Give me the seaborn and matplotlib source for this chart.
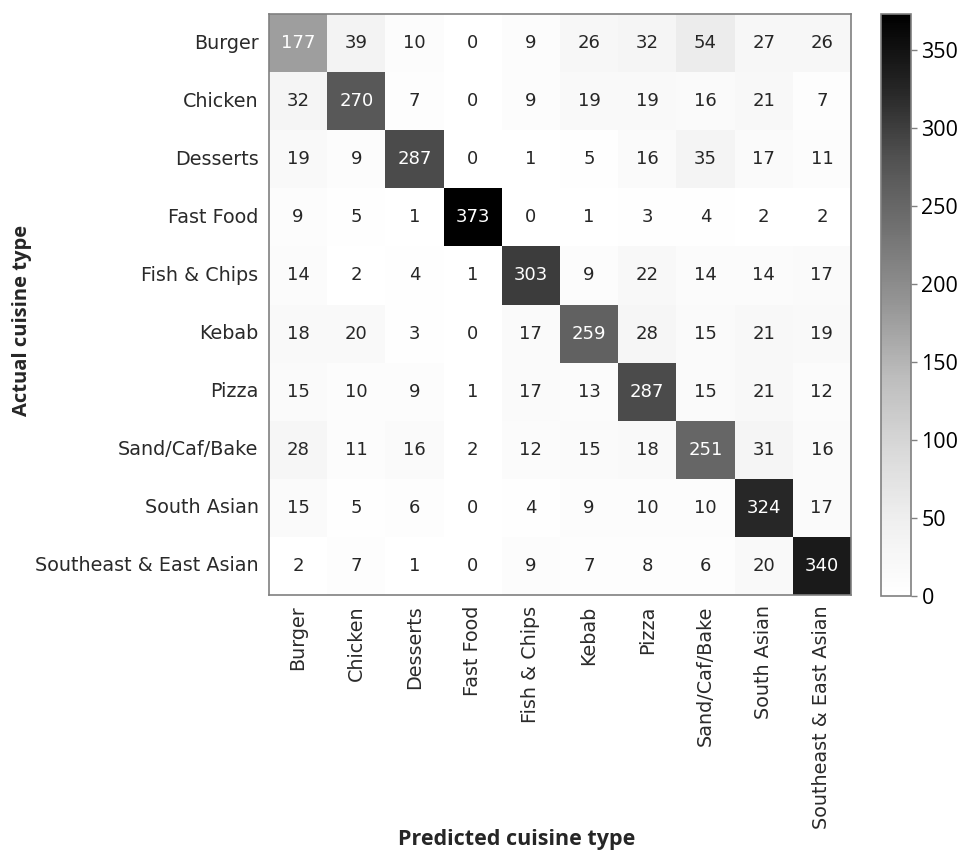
"""
Confusion matrix of predicted vs actual cuisine type.
"""

import numpy as np
import pandas as pd
import matplotlib
matplotlib.use("Agg")
import matplotlib.pyplot as plt
import seaborn as sns

# Class labels (same order on both axes)
cuisines = ["Burger", "Chicken", "Desserts", "Fast Food", "Fish & Chips",
            "Kebab", "Pizza", "Sand/Caf/Bake", "South Asian",
            "Southeast & East Asian"]

# Rows: actual, columns: predicted
counts = [
    [177, 39, 10, 0, 9, 26, 32, 54, 27, 26],
    [32, 270, 7, 0, 9, 19, 19, 16, 21, 7],
    [19, 9, 287, 0, 1, 5, 16, 35, 17, 11],
    [9, 5, 1, 373, 0, 1, 3, 4, 2, 2],
    [14, 2, 4, 1, 303, 9, 22, 14, 14, 17],
    [18, 20, 3, 0, 17, 259, 28, 15, 21, 19],
    [15, 10, 9, 1, 17, 13, 287, 15, 21, 12],
    [28, 11, 16, 2, 12, 15, 18, 251, 31, 16],
    [15, 5, 6, 0, 4, 9, 10, 10, 324, 17],
    [2, 7, 1, 0, 9, 7, 8, 6, 20, 340],
]

cbar_ticks = [0, 50, 100, 150, 200, 250, 300, 350]

df = pd.DataFrame(counts, index=cuisines, columns=cuisines)

sns.set_style("white")
plt.rcParams['font.family'] = ['DejaVu Sans']

W, H = 957, 852
fig = plt.figure(figsize=(W / 100, H / 100), dpi=100)
ax = fig.add_axes([269 / W, 1 - 595 / H, 582 / W, 581 / H])
cax = fig.add_axes([881 / W, 1 - 596 / H, 30 / W, 582 / H])

sns.heatmap(df, ax=ax, cbar_ax=cax, cmap="Greys", annot=True, fmt="d",
            vmin=0, vmax=373,
            annot_kws={"fontsize": 13},
            cbar_kws={"ticks": cbar_ticks})

edge = "#808080"
for spine in ax.spines.values():
    spine.set_visible(True)
    spine.set_color(edge)
    spine.set_linewidth(1.2)

ax.tick_params(axis="both", which="major", length=4, width=1, color=edge,
               labelsize=13.8, labelcolor="#2a2a2a")
ax.set_xticklabels(cuisines, rotation=90)
ax.set_yticklabels(cuisines, rotation=0)
ax.set_xlabel("")
ax.set_ylabel("")

# Colorbar styling
cbar = ax.collections[0].colorbar
cbar.outline.set_visible(True)
cbar.outline.set_edgecolor(edge)
cbar.outline.set_linewidth(1.2)
cax.tick_params(length=4, width=1, color=edge, labelsize=15.5,
                labelcolor="black")
for lbl in cax.get_yticklabels():
    lbl.set_family(["Open Sans", "DejaVu Sans"])

# Axis titles
fig.text(22 / W, 1 - 320 / H, "Actual cuisine type", rotation=90,
         ha="center", va="center", fontsize=14.5, fontweight="bold",
         family=["Open Sans", "DejaVu Sans"])
fig.text(517 / W, 1 - 839 / H, "Predicted cuisine type",
         ha="center", va="center", fontsize=15.5, fontweight="bold",
         family=["Open Sans", "DejaVu Sans"])

fig.savefig("out.png", dpi=100, facecolor="white")
plt.close(fig)
